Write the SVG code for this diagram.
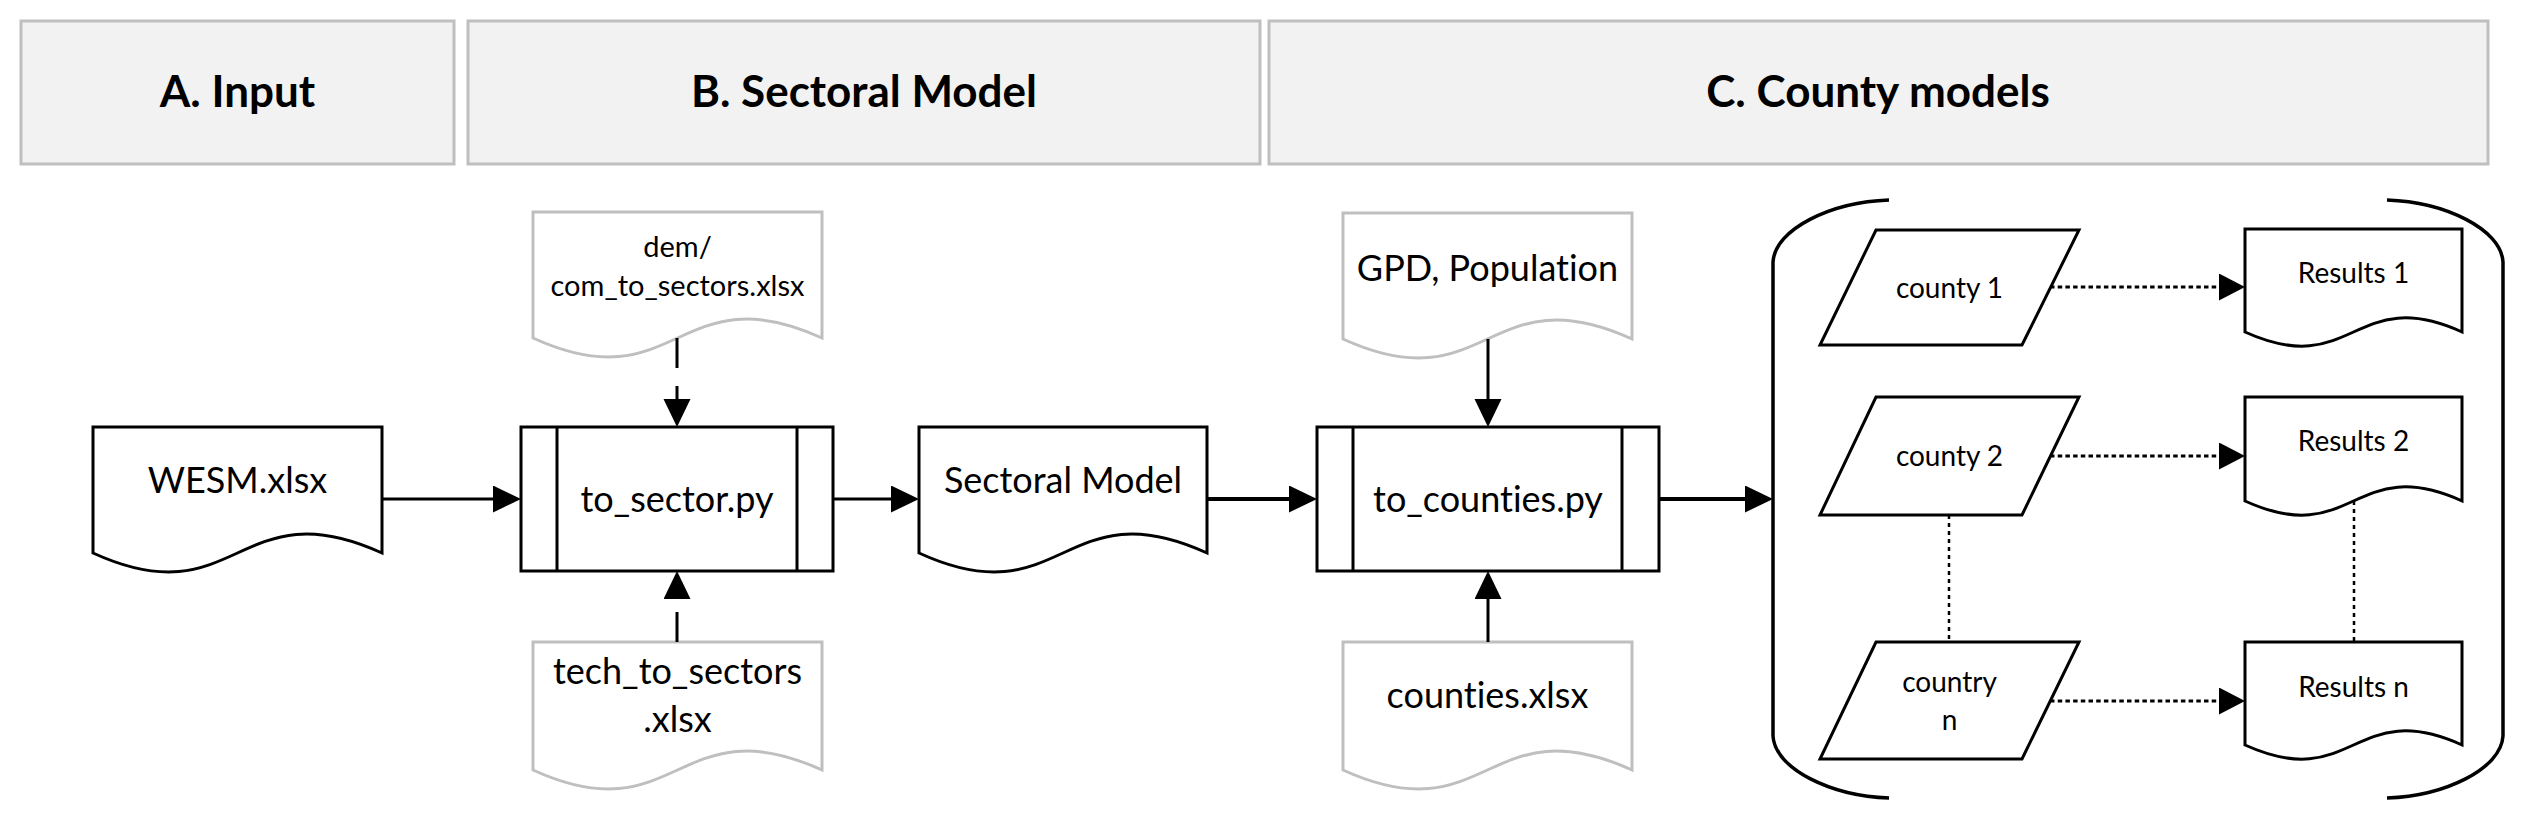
<svg xmlns="http://www.w3.org/2000/svg" width="2524" height="817" viewBox="0 0 2524 817">
<defs>
<style>
text{font-variant-ligatures:none;font-feature-settings:"liga" 0,"clig" 0}
.hdr{fill:#f2f2f2;stroke:#bfbfbf;stroke-width:3}
.htxt{font-family:Lato,"Open Sans","Liberation Sans",sans-serif;font-weight:bold;font-size:44px;fill:#000;text-anchor:middle}
.shape{fill:#fff;stroke:#000;stroke-width:3;stroke-linejoin:miter}
.gdoc{fill:#fff;stroke:#bfbfbf;stroke-width:3}
.t{font-family:Lato,"Open Sans","Liberation Sans",sans-serif;font-size:36px;fill:#000;text-anchor:middle}
.ts{font-family:Lato,"Open Sans","Liberation Sans",sans-serif;font-size:29px;fill:#000;text-anchor:middle}
.tc{font-family:Lato,"Open Sans","Liberation Sans",sans-serif;font-size:28px;fill:#000;text-anchor:middle}
.c{fill:none;stroke:#000;stroke-width:3}
.cb{fill:none;stroke:#000;stroke-width:4}
.dash{stroke-dasharray:30 18}
.dot{stroke-dasharray:4.5 3.2}
.vdot{fill:none;stroke:#000;stroke-width:2.5;stroke-dasharray:4 4}
.br{fill:none;stroke:#000;stroke-width:3.5}
</style>
<marker id="ah" markerUnits="userSpaceOnUse" markerWidth="30" markerHeight="28" refX="2" refY="13.5" orient="auto">
<path d="M0,0 L28,13.5 L0,27 Z" fill="#000"/>
</marker>
<marker id="ahs" markerUnits="userSpaceOnUse" markerWidth="30" markerHeight="28" refX="2" refY="13.5" orient="auto">
<path d="M0,0 L26,13.5 L0,27 Z" fill="#000"/>
</marker>
</defs>
<rect width="2524" height="817" fill="#fff"/>

<g id="header-a">
<rect class="hdr" x="21" y="21" width="433" height="143"/>
<text class="htxt" x="237.5" y="107">A. Input</text>
</g>
<g id="header-b">
<rect class="hdr" x="468" y="21" width="792" height="143"/>
<text class="htxt" x="864" y="107">B. Sectoral Model</text>
</g>
<g id="header-c">
<rect class="hdr" x="1269" y="21" width="1219" height="143"/>
<text class="htxt" x="1878" y="107">C. County models</text>
</g>

<g id="wesm">
<path class="shape" d="M93,553 L93,427 L382,427 L382,553 C237.5,487 237.5,619 93,553 Z"/>
<text class="t" x="237.5" y="493">WESM.xlsx</text>
</g>

<g id="dem-com">
<path class="gdoc" d="M533,338 L533,212 L822,212 L822,338 C677.5,272 677.5,404 533,338 Z"/>
<text class="ts" x="677.5" y="257">dem/</text>
<text class="ts" x="677.5" y="296">com_to_sectors.xlsx</text>
</g>

<g id="tech">
<path class="gdoc" d="M533,770 L533,642 L822,642 L822,770 C677.5,704 677.5,836 533,770 Z"/>
<text class="t" x="677.5" y="684">tech_to_sectors</text>
<text class="t" x="677.5" y="732">.xlsx</text>
</g>

<g id="to-sector">
<rect class="shape" x="521" y="427" width="312" height="144"/>
<line class="shape" x1="557" y1="427" x2="557" y2="571"/>
<line class="shape" x1="797" y1="427" x2="797" y2="571"/>
<text class="t" x="677" y="512">to_sector.py</text>
</g>

<g id="sectoral-model">
<path class="shape" d="M919,553 L919,427 L1207,427 L1207,553 C1063,487 1063,619 919,553 Z"/>
<text class="t" x="1063" y="493">Sectoral Model</text>
</g>

<g id="gpd">
<path class="gdoc" d="M1343,339 L1343,213 L1632,213 L1632,339 C1487.5,273 1487.5,405 1343,339 Z"/>
<text class="t" x="1487.5" y="281">GPD, Population</text>
</g>

<g id="counties">
<path class="gdoc" d="M1343,770 L1343,642 L1632,642 L1632,770 C1487.5,704 1487.5,836 1343,770 Z"/>
<text class="t" x="1487.5" y="708">counties.xlsx</text>
</g>

<g id="to-counties">
<rect class="shape" x="1317" y="427" width="342" height="144"/>
<line class="shape" x1="1353" y1="427" x2="1353" y2="571"/>
<line class="shape" x1="1622" y1="427" x2="1622" y2="571"/>
<text class="t" x="1488" y="512">to_counties.py</text>
</g>

<g id="county-group">
<path class="br" d="M1889,200 C1831,202 1775,229 1773,262 L1773,736 C1775,769 1831,796 1889,798"/>
<path class="br" d="M2387,200 C2445,202 2501,229 2503,262 L2503,736 C2501,769 2445,796 2387,798"/>
</g>

<g id="county-1">
<path class="shape" d="M1876,230 L2079,230 L2022,345 L1820,345 Z"/>
<text class="tc" x="1949.5" y="298">county 1</text>
</g>
<g id="county-2">
<path class="shape" d="M1876,397 L2079,397 L2022,515 L1820,515 Z"/>
<text class="tc" x="1949.5" y="466">county 2</text>
</g>
<g id="country-n">
<path class="shape" d="M1876,642 L2079,642 L2022,759 L1820,759 Z"/>
<text class="tc" x="1949.5" y="692">country</text>
<text class="tc" x="1949.5" y="730">n</text>
</g>

<g id="results-1">
<path class="shape" d="M2245,332 L2245,229 L2462,229 L2462,332 C2353.5,283 2353.5,381 2245,332 Z"/>
<text class="tc" x="2353.5" y="283">Results 1</text>
</g>
<g id="results-2">
<path class="shape" d="M2245,501 L2245,397 L2462,397 L2462,501 C2353.5,452 2353.5,550 2245,501 Z"/>
<text class="tc" x="2353.5" y="451">Results 2</text>
</g>
<g id="results-n">
<path class="shape" d="M2245,745 L2245,642 L2462,642 L2462,745 C2353.5,696 2353.5,794 2245,745 Z"/>
<text class="tc" x="2353.5" y="697">Results n</text>
</g>

<g id="connectors">
<line class="c" x1="382" y1="499" x2="495" y2="499" marker-end="url(#ah)"/>
<line class="c" x1="833" y1="499" x2="893" y2="499" marker-end="url(#ah)"/>
<line class="cb" x1="1207" y1="499" x2="1291" y2="499" marker-end="url(#ah)"/>
<line class="cb" x1="1659" y1="499" x2="1747" y2="499" marker-end="url(#ah)"/>
<line class="c dash" x1="677" y1="338" x2="677" y2="401" marker-end="url(#ah)"/>
<line class="c dash" x1="677" y1="642" x2="677" y2="597" marker-end="url(#ah)"/>
<line class="c" x1="1488" y1="339" x2="1488" y2="401" marker-end="url(#ah)"/>
<line class="c" x1="1488" y1="642" x2="1488" y2="597" marker-end="url(#ah)"/>
<line class="c dot" x1="2050" y1="287" x2="2221" y2="287" marker-end="url(#ahs)"/>
<line class="c dot" x1="2050" y1="456" x2="2221" y2="456" marker-end="url(#ahs)"/>
<line class="c dot" x1="2050" y1="701" x2="2221" y2="701" marker-end="url(#ahs)"/>
<line class="vdot" x1="1949" y1="515" x2="1949" y2="642"/>
<line class="vdot" x1="2354" y1="501" x2="2354" y2="642"/>
</g>
</svg>
